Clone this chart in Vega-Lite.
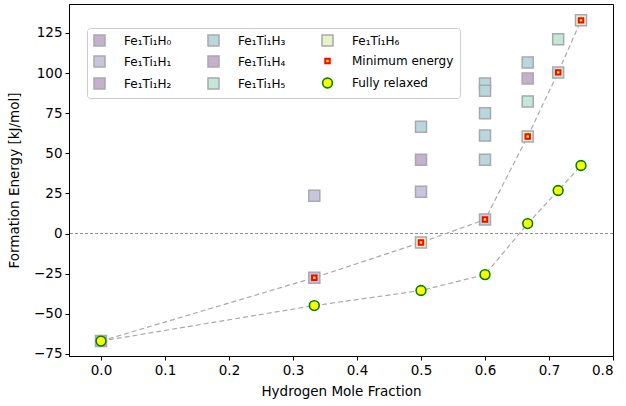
{
  "$schema": "https://vega.github.io/schema/vega-lite/v6.json",
  "width": 544,
  "height": 352,
  "autosize": {"type": "none"},
  "padding": {"left": 69, "top": 4, "right": 13, "bottom": 50},
  "background": "white",
  "config": {
    "font": "DejaVu Sans",
    "view": {"stroke": "#000000", "strokeWidth": 1},
    "axis": {
      "labelFont": "DejaVu Sans",
      "titleFont": "DejaVu Sans",
      "labelFontSize": 13.5,
      "titleFontSize": 13.5,
      "titleFontWeight": "normal",
      "labelColor": "#000000",
      "titleColor": "#000000",
      "tickColor": "#000000",
      "domainColor": "#000000",
      "tickSize": 4,
      "labelPadding": 3,
      "grid": false
    },
    "legend": {
      "labelFont": "DejaVu Sans",
      "labelFontSize": 12,
      "labelColor": "#000000"
    }
  },
  "datasets": {
    "pts": [
      {"x": 0, "y": -67, "series": "Fe₁Ti₁H₀"},
      {"x": 0.3333, "y": 23.5, "series": "Fe₁Ti₁H₁"},
      {"x": 0.3333, "y": -27.5, "series": "Fe₁Ti₁H₁"},
      {"x": 0.5, "y": 66.5, "series": "Fe₁Ti₁H₃"},
      {"x": 0.5, "y": 46, "series": "Fe₁Ti₁H₂"},
      {"x": 0.5, "y": 26, "series": "Fe₁Ti₁H₁"},
      {"x": 0.5, "y": -5.6, "series": "Fe₁Ti₁H₆"},
      {"x": 0.6, "y": 93.5, "series": "Fe₁Ti₁H₃"},
      {"x": 0.6, "y": 89, "series": "Fe₁Ti₁H₃"},
      {"x": 0.6, "y": 75, "series": "Fe₁Ti₁H₃"},
      {"x": 0.6, "y": 61, "series": "Fe₁Ti₁H₃"},
      {"x": 0.6, "y": 46, "series": "Fe₁Ti₁H₃"},
      {"x": 0.6, "y": 8.7, "series": "Fe₁Ti₁H₃"},
      {"x": 0.6667, "y": 106.6, "series": "Fe₁Ti₁H₃"},
      {"x": 0.6667, "y": 96.6, "series": "Fe₁Ti₁H₄"},
      {"x": 0.6667, "y": 82.3, "series": "Fe₁Ti₁H₅"},
      {"x": 0.6667, "y": 60.5, "series": "Fe₁Ti₁H₆"},
      {"x": 0.7143, "y": 121, "series": "Fe₁Ti₁H₅"},
      {"x": 0.7143, "y": 100.4, "series": "Fe₁Ti₁H₅"},
      {"x": 0.75, "y": 132.8, "series": "Fe₁Ti₁H₆"},
      {"x": 0, "y": -67, "series": "Minimum energy"},
      {"x": 0.3333, "y": -27.5, "series": "Minimum energy"},
      {"x": 0.5, "y": -5.6, "series": "Minimum energy"},
      {"x": 0.6, "y": 8.7, "series": "Minimum energy"},
      {"x": 0.6667, "y": 60.5, "series": "Minimum energy"},
      {"x": 0.7143, "y": 100.4, "series": "Minimum energy"},
      {"x": 0.75, "y": 132.8, "series": "Minimum energy"},
      {"x": 0, "y": -67, "series": "Fully relaxed"},
      {"x": 0.3333, "y": -44.9, "series": "Fully relaxed"},
      {"x": 0.5, "y": -35.5, "series": "Fully relaxed"},
      {"x": 0.6, "y": -25.6, "series": "Fully relaxed"},
      {"x": 0.6667, "y": 6.2, "series": "Fully relaxed"},
      {"x": 0.7143, "y": 26.8, "series": "Fully relaxed"},
      {"x": 0.75, "y": 42.4, "series": "Fully relaxed"}
    ],
    "zero": [{"y": 0}]
  },
  "layer": [
    {
      "data": {"name": "zero"},
      "mark": {"type": "rule", "color": "#808080", "strokeWidth": 0.9, "strokeDash": [3, 2]},
      "encoding": {"y": {"field": "y", "type": "quantitative"}}
    },
    {
      "data": {"name": "pts"},
      "transform": [{"filter": "datum.series === 'Minimum energy' || datum.series === 'Fully relaxed'"}],
      "mark": {"type": "line", "color": "#aaaaaa", "strokeWidth": 1.2, "strokeDash": [5, 3]},
      "encoding": {
        "x": {"field": "x", "type": "quantitative"},
        "y": {"field": "y", "type": "quantitative"},
        "detail": {"field": "series", "type": "nominal"}
      }
    },
    {
      "data": {"name": "pts"},
      "mark": {"type": "point", "filled": true, "opacity": 1, "strokeOpacity": 1},
      "encoding": {
        "x": {
          "field": "x", "type": "quantitative",
          "scale": {"domain": [-0.05, 0.8], "nice": false, "zero": false},
          "axis": {"values": [0, 0.1, 0.2, 0.3, 0.4, 0.5, 0.6, 0.7, 0.8], "format": ".1f", "title": "Hydrogen Mole Fraction", "titlePadding": 8}
        },
        "y": {
          "field": "y", "type": "quantitative",
          "scale": {"domain": [-76.3, 143], "nice": false, "zero": false},
          "axis": {"values": [-75, -50, -25, 0, 25, 50, 75, 100, 125], "title": "Formation Energy [kJ/mol]", "titlePadding": 12}
        },
        "shape": {
          "field": "series", "type": "nominal",
          "scale": {
            "domain": ["Fe₁Ti₁H₀", "Fe₁Ti₁H₁", "Fe₁Ti₁H₂", "Fe₁Ti₁H₃", "Fe₁Ti₁H₄", "Fe₁Ti₁H₅", "Fe₁Ti₁H₆", "Minimum energy", "Fully relaxed"],
            "range": ["square", "square", "square", "square", "square", "square", "square", "square", "circle"]
          },
          "legend": {
            "title": null, "orient": "none", "legendX": 18, "legendY": 24,
            "columns": 3, "columnPadding": 33, "rowPadding": 4,
            "padding": 6, "strokeColor": "#cccccc", "fillColor": "#ffffff", "cornerRadius": 3,
            "labelOffset": 18
          }
        },
        "fill": {
          "field": "series", "type": "nominal",
          "scale": {
            "domain": ["Fe₁Ti₁H₀", "Fe₁Ti₁H₁", "Fe₁Ti₁H₂", "Fe₁Ti₁H₃", "Fe₁Ti₁H₄", "Fe₁Ti₁H₅", "Fe₁Ti₁H₆", "Minimum energy", "Fully relaxed"],
            "range": ["#c6b0cc", "#c8c6de", "#c6b0cc", "#b8d8de", "#c6b0cc", "#c2e8d6", "#e8f2c8", "#ffff00", "#ffff00"]
          }
        },
        "stroke": {
          "field": "series", "type": "nominal",
          "scale": {
            "domain": ["Fe₁Ti₁H₀", "Fe₁Ti₁H₁", "Fe₁Ti₁H₂", "Fe₁Ti₁H₃", "Fe₁Ti₁H₄", "Fe₁Ti₁H₅", "Fe₁Ti₁H₆", "Minimum energy", "Fully relaxed"],
            "range": ["#a8a8ae", "#a8a8ae", "#a8a8ae", "#a8a8ae", "#a8a8ae", "#a8a8ae", "#a8a8ae", "#ff0000", "#008000"]
          }
        },
        "size": {
          "field": "series", "type": "nominal",
          "scale": {
            "type": "ordinal",
            "domain": ["Fe₁Ti₁H₀", "Fe₁Ti₁H₁", "Fe₁Ti₁H₂", "Fe₁Ti₁H₃", "Fe₁Ti₁H₄", "Fe₁Ti₁H₅", "Fe₁Ti₁H₆", "Minimum energy", "Fully relaxed"],
            "range": [121, 121, 121, 121, 121, 121, 121, 20, 95]
          }
        },
        "strokeWidth": {
          "field": "series", "type": "nominal",
          "scale": {
            "type": "ordinal",
            "domain": ["Fe₁Ti₁H₀", "Fe₁Ti₁H₁", "Fe₁Ti₁H₂", "Fe₁Ti₁H₃", "Fe₁Ti₁H₄", "Fe₁Ti₁H₅", "Fe₁Ti₁H₆", "Minimum energy", "Fully relaxed"],
            "range": [1.5, 1.5, 1.5, 1.5, 1.5, 1.5, 1.5, 2, 1.6]
          }
        }
      }
    }
  ]
}
